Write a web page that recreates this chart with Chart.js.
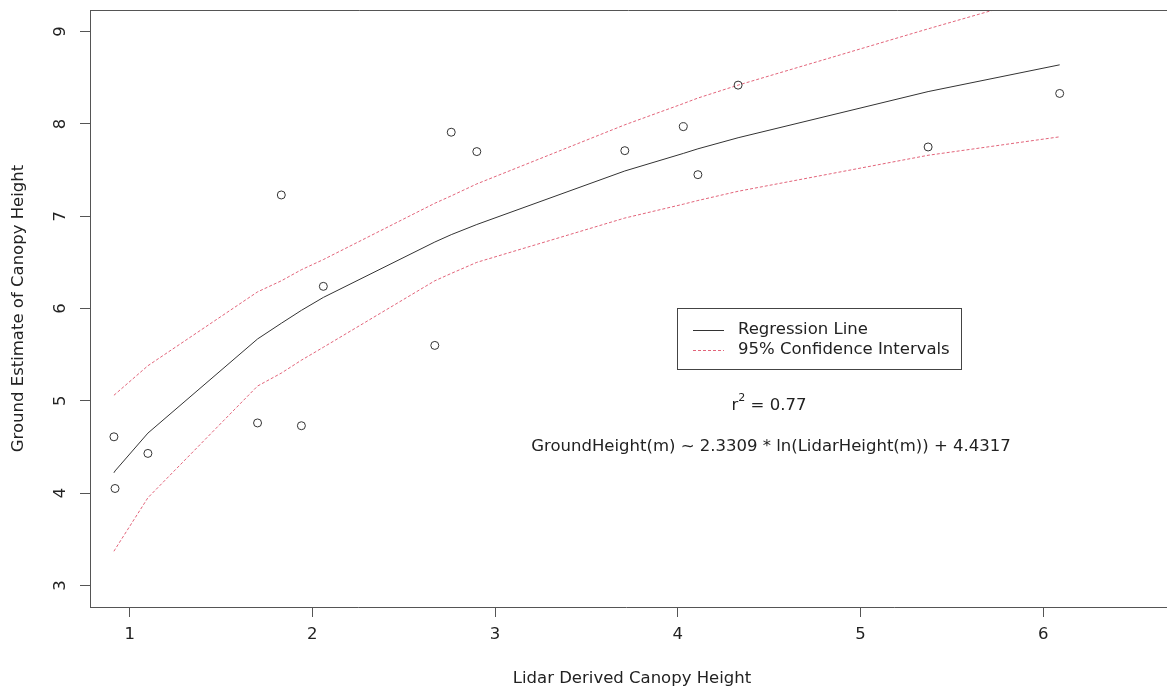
<!DOCTYPE html>
<html>
<head>
<meta charset="utf-8">
<script src="https://cdn.jsdelivr.net/npm/chart.js@4"></script>
<style>
  body { margin: 0; background: #fff; }
  #wrap { width: 1167px; height: 692px; position: relative; }
</style>
</head>
<body>
<div id="wrap"><canvas id="plot"></canvas></div>
<script>
// Lidar vs ground canopy height
const lidarX  = [0.914, 0.92, 1.10, 1.70, 1.83, 1.94, 2.06, 2.67, 2.76, 2.90, 3.71, 4.03, 4.11, 4.33, 5.37, 6.09];
const groundY = [4.61, 4.05, 4.43, 4.76, 7.23, 4.73, 6.24, 5.60, 7.91, 7.70, 7.71, 7.97, 7.45, 8.42, 7.75, 8.33];
const fitY    = [4.22, 4.24, 4.65, 5.67, 5.84, 5.98, 6.12, 6.72, 6.80, 6.91, 7.49, 7.68, 7.73, 7.85, 8.35, 8.64];
const upperY  = [5.06, 5.07, 5.38, 6.18, 6.30, 6.42, 6.53, 7.14, 7.22, 7.35, 7.99, 8.22, 8.28, 8.42, 9.03, 9.44];
const lowerY  = [3.37, 3.39, 3.95, 5.16, 5.30, 5.44, 5.58, 6.30, 6.38, 6.50, 6.98, 7.13, 7.17, 7.27, 7.66, 7.86];
const xTicks  = [1, 2, 3, 4, 5, 6];
const yTicks  = [3, 4, 5, 6, 7, 8, 9];

const axisCol = '#555';
const textCol = '#222';
const ciCol = 'rgba(223,83,107,0.9)';
const FONT = '16.5px "DejaVu Sans"';

const pts = (ys) => lidarX.map((x, i) => ({ x: x, y: ys[i] }));

// extra drawing in R style: box top, rotated y labels, titles, legend, notes
const rDecor = {
  id: 'rDecor',
  afterDraw(chart) {
    const ctx = chart.ctx;
    const a = chart.chartArea;
    const ys = chart.scales.y;
    ctx.save();
    ctx.strokeStyle = axisCol;
    ctx.lineWidth = 1;
    ctx.beginPath();
    ctx.moveTo(a.left, a.top + 0.5);
    ctx.lineTo(chart.width, a.top + 0.5);
    // box continues past the axis to the edge of the picture
    ctx.moveTo(a.right, a.bottom + 0.5);
    ctx.lineTo(chart.width, a.bottom + 0.5);
    ctx.stroke();

    ctx.fillStyle = textCol;
    ctx.font = FONT;
    ctx.textAlign = 'center';
    ctx.textBaseline = 'middle';
    yTicks.forEach(v => {
      const py = ys.getPixelForValue(v);
      ctx.save();
      ctx.translate(61, py);
      ctx.rotate(-Math.PI / 2);
      ctx.fillText(String(v), 0, 0);
      ctx.restore();
    });

    // axis titles
    ctx.fillText('Lidar Derived Canopy Height', 632, 679);
    ctx.save();
    ctx.translate(19, (a.top + a.bottom) / 2);
    ctx.rotate(-Math.PI / 2);
    ctx.fillText('Ground Estimate of Canopy Height', 0, 0);
    ctx.restore();

    // legend
    const lx = 677.5, ly = 308.5, lw = 284, lh = 61;
    ctx.strokeStyle = '#444';
    ctx.strokeRect(lx, ly, lw, lh);
    ctx.lineWidth = 1;
    ctx.strokeStyle = '#333';
    ctx.beginPath();
    ctx.moveTo(693, 330.5); ctx.lineTo(724, 330.5);
    ctx.stroke();
    ctx.strokeStyle = ciCol;
    ctx.setLineDash([3, 2]);
    ctx.beginPath();
    ctx.moveTo(693, 350.5); ctx.lineTo(724, 350.5);
    ctx.stroke();
    ctx.setLineDash([]);
    ctx.textAlign = 'left';
    ctx.fillText('Regression Line', 738, 330);
    ctx.fillText('95% Confidence Intervals', 738, 350);

    // r squared and equation
    const r = 'r', rest = ' = 0.77';
    const wr = ctx.measureText(r).width;
    ctx.font = '11px "DejaVu Sans"';
    const w2 = ctx.measureText('2').width;
    ctx.font = FONT;
    const wRest = ctx.measureText(rest).width;
    const sx = 769 - (wr + w2 + wRest) / 2;
    ctx.fillText(r, sx, 406);
    ctx.font = '11px "DejaVu Sans"';
    ctx.fillText('2', sx + wr, 398);
    ctx.font = FONT;
    ctx.fillText(rest, sx + wr + w2, 406);
    ctx.textAlign = 'center';
    ctx.fillText('GroundHeight(m) ~ 2.3309 * ln(LidarHeight(m)) + 4.4317', 771, 447);
    ctx.restore();
  }
};

new Chart(document.getElementById('plot'), {
  type: 'scatter',
  data: {
    datasets: [
      {
        label: 'Observations',
        data: pts(groundY),
        pointStyle: 'circle',
        pointRadius: 4,
        pointBorderWidth: 1,
        borderColor: '#333',
        backgroundColor: 'rgba(0,0,0,0)',
        showLine: false
      },
      {
        label: 'Regression Line',
        data: pts(fitY),
        showLine: true,
        borderColor: '#333',
        borderWidth: 1,
        pointRadius: 0,
        tension: 0
      },
      {
        label: 'Upper 95%',
        data: pts(upperY),
        showLine: true,
        borderColor: ciCol,
        borderWidth: 1,
        borderDash: [3, 2],
        pointRadius: 0,
        tension: 0
      },
      {
        label: 'Lower 95%',
        data: pts(lowerY),
        showLine: true,
        borderColor: ciCol,
        borderWidth: 1,
        borderDash: [3, 2],
        pointRadius: 0,
        tension: 0
      }
    ]
  },
  options: {
    responsive: true,
    maintainAspectRatio: false,
    animation: false,
    layout: { padding: { top: 10, right: 0, left: 0, bottom: 0 } },
    plugins: { legend: { display: false }, tooltip: { enabled: false } },
    scales: {
      x: {
        type: 'linear',
        min: 0.783,
        max: 6.65,
        afterBuildTicks: s => { s.ticks = xTicks.map(v => ({ value: v })); },
        afterFit: s => { s.height = 85; },
        grid: { drawOnChartArea: false, drawTicks: true, tickLength: 10, color: axisCol },
        border: { color: axisCol, width: 1 },
        ticks: { color: textCol, font: { family: 'DejaVu Sans', size: 16.5 }, padding: 8, maxRotation: 0 }
      },
      y: {
        type: 'linear',
        min: 2.766,
        max: 9.234,
        afterBuildTicks: s => { s.ticks = yTicks.map(v => ({ value: v })); },
        afterFit: s => { s.width = 90; },
        grid: { drawOnChartArea: false, drawTicks: true, tickLength: 10, color: axisCol },
        border: { color: axisCol, width: 1 },
        ticks: { display: false }
      }
    }
  },
  plugins: [rDecor]
});
</script>
</body>
</html>
